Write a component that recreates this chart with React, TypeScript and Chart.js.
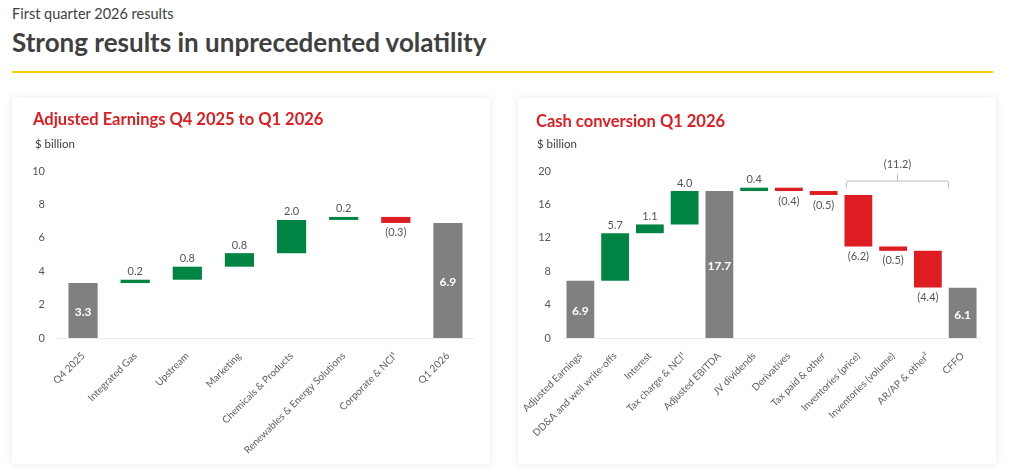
import { useEffect, useRef } from 'react';
import { Chart, registerables } from 'chart.js';

Chart.register(...registerables);

const FONT = 'Lato, sans-serif';
const GREEN = '#008443';
const RED = '#DD1D21';
const GREY = '#808080';
const TEXT = '#555555';

const earningsCategories = ['Q4 2025', 'Integrated Gas', 'Upstream', 'Marketing', 'Chemicals & Products', 'Renewables & Energy Solutions', 'Corporate & NCI¹', 'Q1 2026'];
const earningsLow = [0, 3.29, 3.49, 4.27, 5.08, 7.07, 6.89, 0];
const earningsHigh = [3.29, 3.49, 4.27, 5.08, 7.07, 7.25, 7.25, 6.88];
const earningsLabels = ['3.3', '0.2', '0.8', '0.8', '2.0', '0.2', '(0.3)', '6.9'];
const earningsKinds = ['total', 'up', 'up', 'up', 'up', 'up', 'down', 'total'];

const cashCategories = ['Adjusted Earnings', 'DD&A and well write-offs', 'Interest', 'Tax charge & NCI¹', 'Adjusted EBITDA', 'JV dividends', 'Derivatives', 'Tax paid & other', 'Inventories (price)', 'Inventories (volume)', 'AR/AP & other²', 'CFFO'];
const cashLow = [0, 6.85, 12.55, 13.6, 0, 17.6, 17.6, 17.13, 10.96, 10.44, 6.06, 0];
const cashHigh = [6.85, 12.55, 13.6, 17.6, 17.6, 18.0, 18.0, 17.6, 17.13, 10.96, 10.44, 6.02];
const cashLabels = ['6.9', '5.7', '1.1', '4.0', '17.7', '0.4', '(0.4)', '(0.5)', '(6.2)', '(0.5)', '(4.4)', '6.1'];
const cashKinds = ['total', 'up', 'up', 'up', 'total', 'up', 'down', 'down', 'down', 'down', 'down', 'total'];

const kindColors: Record<string, string> = { total: GREY, up: GREEN, down: RED };

interface WaterfallProps {
  categories: string[];
  low: number[];
  high: number[];
  labels: string[];
  kinds: string[];
  yMax: number;
  yStep: number;
  barRatio: number;
  left: number;
  bracket?: boolean;
}

const Waterfall = ({ categories, low, high, labels, kinds, yMax, yStep, barRatio, left, bracket }: WaterfallProps) => {
  const canvasRef = useRef<HTMLCanvasElement>(null);

  useEffect(() => {
    if (!canvasRef.current) return;
    const valueLabels = {
      id: 'valueLabels',
      afterDatasetsDraw(chart: Chart) {
        const { ctx, scales } = chart;
        ctx.save();
        ctx.textAlign = 'center';
        ctx.textBaseline = 'middle';
        labels.forEach((label, i) => {
          const x = scales.x.getPixelForValue(i);
          if (kinds[i] === 'total') {
            ctx.font = `700 12px ${FONT}`;
            ctx.fillStyle = '#ffffff';
            ctx.fillText(label, x, (scales.y.getPixelForValue(low[i]) + scales.y.getPixelForValue(high[i])) / 2 + 2);
          } else if (kinds[i] === 'up') {
            ctx.font = `400 11px ${FONT}`;
            ctx.fillStyle = TEXT;
            ctx.fillText(label, x, scales.y.getPixelForValue(high[i]) - 8);
          } else {
            ctx.font = `400 11px ${FONT}`;
            ctx.fillStyle = TEXT;
            ctx.fillText(label, x, scales.y.getPixelForValue(low[i]) + 10);
          }
        });
        if (bracket) {
          const x0 = scales.x.getPixelForValue(8) - 12;
          const x1 = scales.x.getPixelForValue(11) - 14;
          const mid = (x0 + x1) / 2;
          const top = scales.y.getPixelForValue(18.8);
          const foot = scales.y.getPixelForValue(17.9);
          ctx.strokeStyle = '#bdbdbd';
          ctx.lineWidth = 1;
          ctx.beginPath();
          ctx.moveTo(x0, foot);
          ctx.arcTo(x0, top, x0 + 3, top, 2);
          ctx.arcTo(x1, top, x1, foot, 2);
          ctx.lineTo(x1, foot);
          ctx.moveTo(mid, top);
          ctx.lineTo(mid, scales.y.getPixelForValue(19.6));
          ctx.stroke();
          ctx.font = `400 11px ${FONT}`;
          ctx.fillStyle = TEXT;
          ctx.fillText('(11.2)', mid, scales.y.getPixelForValue(20.75));
        }
        ctx.restore();
      },
    };
    const chart = new Chart(canvasRef.current, {
      type: 'bar',
      data: {
        labels: categories,
        datasets: [{
          data: low.map((v, i) => [v, high[i]]),
          backgroundColor: kinds.map(k => kindColors[k]),
          categoryPercentage: 1,
          barPercentage: barRatio,
        }],
      },
      options: {
        animation: false,
        responsive: false,
        devicePixelRatio: 1,
        layout: { padding: { top: 73, right: 16, left: 0, bottom: 0 } },
        plugins: { legend: { display: false }, tooltip: { enabled: false } },
        scales: {
          x: {
            grid: { display: false },
            border: { color: '#ececec' },
            ticks: {
              autoSkip: false,
              minRotation: 45,
              maxRotation: 45,
              padding: 4,
              color: '#5f5f5f',
              font: { family: FONT, size: 10, weight: 400 },
            },
            afterFit: (s: any) => { s.height = 126; s.paddingLeft = 0; s.paddingRight = 0; },
          },
          y: {
            min: 0,
            max: yMax,
            grid: { display: false, drawTicks: false },
            border: { display: false },
            ticks: {
              stepSize: yStep,
              padding: 12,
              color: TEXT,
              font: { family: FONT, size: 11 },
            },
            afterFit: (s: any) => { s.width = 45; },
          },
        },
      },
      plugins: [valueLabels],
    });
    return () => chart.destroy();
  }, []);

  return <canvas ref={canvasRef} width={478} height={366} style={{ position: 'absolute', left, top: 98, width: 478, height: 366 }} />;
};

const textStyle = (left: number, top: number, size: number, weight: number, color: string) => ({
  position: 'absolute' as const,
  left,
  top,
  fontSize: size,
  fontWeight: weight,
  color,
  lineHeight: `${Math.round(size) + 4}px`,
  whiteSpace: 'nowrap' as const,
});

const cardStyle = (left: number) => ({
  position: 'absolute' as const,
  left,
  top: 98,
  width: 478,
  height: 366,
  background: '#fff',
  boxShadow: '0 0 8px rgba(0,0,0,0.09)',
});

const App = () => (
  <div style={{ position: 'absolute', left: 0, top: 0, width: 1010, height: 474, background: '#fff', fontFamily: FONT, overflow: 'hidden' }}>
    <div style={textStyle(12, 4, 14.5, 400, '#404040')}>First quarter 2026 results</div>
    <div style={textStyle(12, 27, 26, 700, '#404040')}>Strong results in unprecedented volatility</div>
    <div style={{ position: 'absolute', left: 12, top: 71, width: 981, height: 2, background: '#FBCE07' }} />
    <div style={cardStyle(12)} />
    <div style={cardStyle(518)} />
    <Waterfall categories={earningsCategories} low={earningsLow} high={earningsHigh} labels={earningsLabels} kinds={earningsKinds} yMax={10} yStep={2} barRatio={0.56} left={12} />
    <Waterfall categories={cashCategories} low={cashLow} high={cashHigh} labels={cashLabels} kinds={cashKinds} yMax={20} yStep={4} barRatio={0.8} left={518} bracket />
    <div style={textStyle(33, 109, 16.5, 700, RED)}>Adjusted Earnings Q4 2025 to Q1 2026</div>
    <div style={textStyle(536, 111, 16.5, 700, RED)}>Cash conversion Q1 2026</div>
    <div style={textStyle(35, 136, 11.5, 400, '#404040')}>$ billion</div>
    <div style={textStyle(537, 136, 11.5, 400, '#404040')}>$ billion</div>
  </div>
);

export default App;
